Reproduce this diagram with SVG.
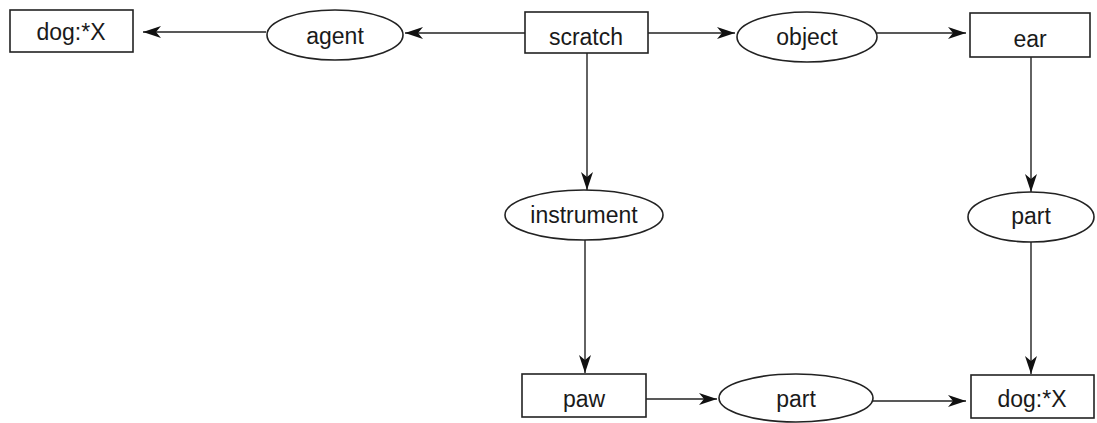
<svg xmlns="http://www.w3.org/2000/svg" width="1097" height="423" viewBox="0 0 1097 423">
  <style>
    .concept { fill: #ffffff; stroke: #222222; stroke-width: 1.6; }
    .relation { fill: #ffffff; stroke: #222222; stroke-width: 1.6; }
    .label { font-family: "Liberation Sans", Arial, sans-serif; font-size: 23px; fill: #1a1a1a; text-anchor: middle; }
    .edge { fill: none; stroke: #222222; stroke-width: 1.4; marker-end: url(#arrow); }
  </style>
  <defs>
    <marker id="arrow" viewBox="0 0 18 12" refX="18" refY="6" markerWidth="18" markerHeight="12" markerUnits="userSpaceOnUse" orient="auto">
      <path d="M0,0 L18,6 L0,12 L5,6 Z" fill="#111111"/>
    </marker>
  </defs>
  <rect width="1097" height="423" fill="#ffffff"/>

  <!-- connectors -->
  <g id="connectors">
    <line class="edge" x1="266" y1="32" x2="143" y2="32"/>
    <line class="edge" x1="525" y1="33" x2="405" y2="33"/>
    <line class="edge" x1="648" y1="33" x2="735" y2="33"/>
    <line class="edge" x1="877" y1="33" x2="966" y2="33"/>
    <line class="edge" x1="587" y1="53" x2="587" y2="190"/>
    <line class="edge" x1="585" y1="240" x2="585" y2="373"/>
    <line class="edge" x1="1031" y1="57" x2="1031" y2="192"/>
    <line class="edge" x1="1031" y1="242" x2="1031" y2="374"/>
    <line class="edge" x1="646" y1="399" x2="717" y2="399"/>
    <line class="edge" x1="873" y1="401" x2="966" y2="401"/>
  </g>

  <!-- concept and relation nodes -->
  <g id="dog-top">
    <rect class="concept" x="10" y="10" width="123" height="42"/>
    <text class="label" x="71" y="40">dog:*X</text>
  </g>
  <g id="agent">
    <ellipse class="relation" cx="335" cy="35" rx="68" ry="25"/>
    <text class="label" x="335" y="44">agent</text>
  </g>
  <g id="scratch">
    <rect class="concept" x="525" y="12" width="123" height="41"/>
    <text class="label" x="586" y="45">scratch</text>
  </g>
  <g id="object">
    <ellipse class="relation" cx="807" cy="37" rx="70" ry="25"/>
    <text class="label" x="807" y="45">object</text>
  </g>
  <g id="ear">
    <rect class="concept" x="970" y="13" width="120" height="44"/>
    <text class="label" x="1030" y="47">ear</text>
  </g>
  <g id="instrument">
    <ellipse class="relation" cx="584" cy="215" rx="79" ry="25"/>
    <text class="label" x="584" y="223">instrument</text>
  </g>
  <g id="part-right">
    <ellipse class="relation" cx="1031" cy="217" rx="63" ry="25"/>
    <text class="label" x="1031" y="224">part</text>
  </g>
  <g id="paw">
    <rect class="concept" x="522" y="374" width="124" height="43"/>
    <text class="label" x="584" y="407">paw</text>
  </g>
  <g id="part-bottom">
    <ellipse class="relation" cx="796" cy="398" rx="77" ry="24"/>
    <text class="label" x="796" y="407">part</text>
  </g>
  <g id="dog-bottom">
    <rect class="concept" x="971" y="375" width="123" height="43"/>
    <text class="label" x="1032" y="407">dog:*X</text>
  </g>
</svg>
